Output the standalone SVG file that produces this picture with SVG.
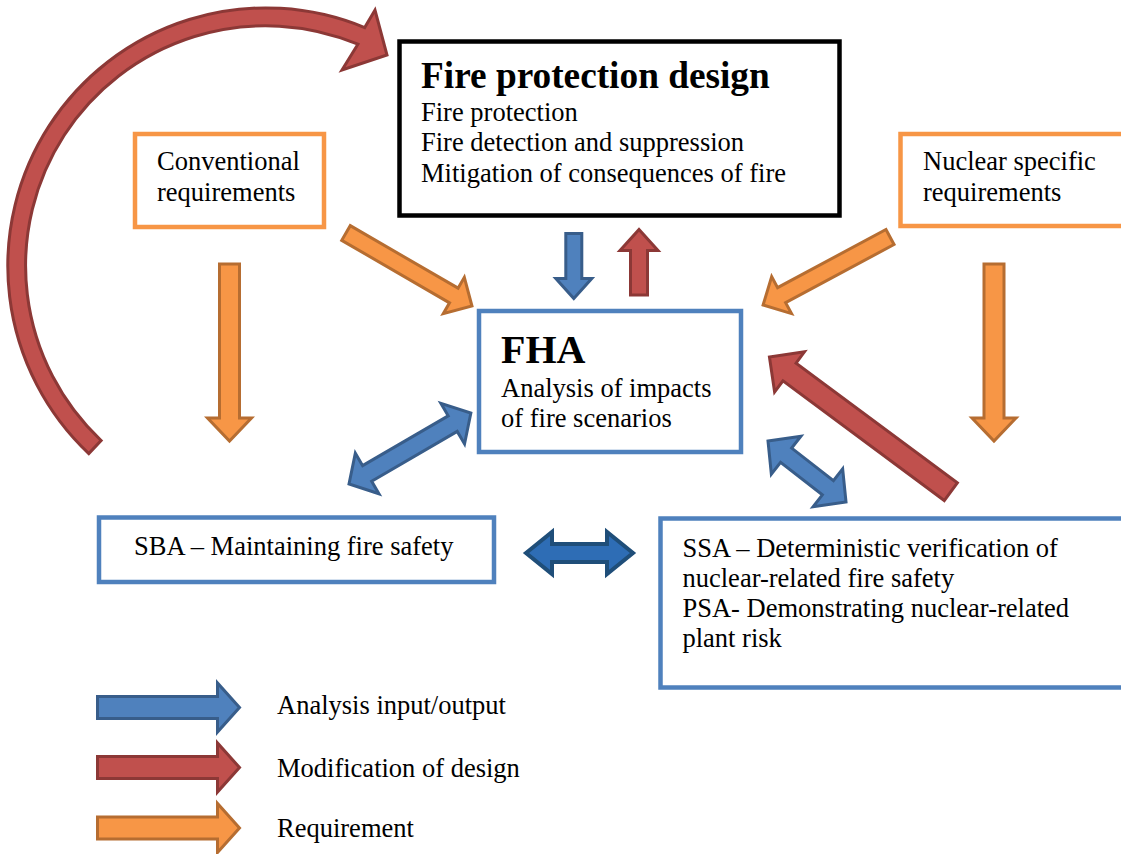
<svg xmlns="http://www.w3.org/2000/svg" width="1121" height="854" viewBox="0 0 1121 854">
<style>
text{font-family:"Liberation Serif","Times New Roman",serif;fill:#000;font-size:26.5px}
.title{font-weight:bold;font-size:37.3px}
.fha{font-weight:bold;font-size:40px}
.box{fill:#fff;stroke-width:4.5}
.bl{stroke:#4F81BD}
.or{stroke:#F79646}
.bk{stroke:#000}
.ab{fill:#4F81BD;stroke:#385D8A;stroke-width:3;stroke-linejoin:miter}
.ar{fill:#C0504D;stroke:#8C3836;stroke-width:3}
.ao{fill:#F79646;stroke:#B66D31;stroke-width:3}
.ad{fill:#2E6DB5;stroke:#1F4E79;stroke-width:4}
</style>
<g id="connectors">
  <path id="loop" class="ar" d="M88.8,453.6 A258,258 0 0 1 364.7,27.6 L375,10 L387,55 L342,70 L357.9,44.2 A240,240 0 0 0 101.1,440.5 Z"/>
  <path class="ao" transform="translate(229.5,264) rotate(90)" d="M0,-10 L154,-10 L154,-22 L177,0 L154,22 L154,10 L0,10 Z"/>
  <path class="ao" transform="translate(994,264) rotate(90)" d="M0,-10 L154,-10 L154,-22 L177,0 L154,22 L154,10 L0,10 Z"/>
  <path class="ao" transform="translate(346,233) rotate(30.1)" d="M0,-8.5 L124.6,-8.5 L124.6,-21 L145.6,0 L124.6,21 L124.6,8.5 L0,8.5 Z"/>
  <path class="ao" transform="translate(890,237) rotate(151.8)" d="M0,-8.5 L123,-8.5 L123,-21 L144,0 L123,21 L123,8.5 L0,8.5 Z"/>
  <path class="ab" transform="translate(573.8,233.5) rotate(90)" d="M0,-8 L45,-8 L45,-18 L65,0 L45,18 L45,8 L0,8 Z"/>
  <path class="ar" transform="translate(639,295) rotate(-90)" d="M0,-8.5 L44.5,-8.5 L44.5,-19 L65.5,0 L44.5,19 L44.5,8.5 L0,8.5 Z"/>
  <path class="ab" transform="translate(349,484) rotate(-30.2)" d="M0,0 L21,-23.5 L21,-9 L120,-9 L120,-23.5 L141,0 L120,23.5 L120,9 L21,9 L21,23.5 Z"/>
  <path class="ab" transform="translate(768,441) rotate(38)" d="M0,0 L23,-24 L23,-9 L76,-9 L76,-24 L99,0 L76,24 L76,9 L23,9 L23,24 Z"/>
  <path class="ar" transform="translate(950.8,491.7) rotate(216.6)" d="M0,-11 L200.9,-11 L200.9,-25 L225.9,0 L200.9,25 L200.9,11 L0,11 Z"/>
  <path class="ad" transform="translate(526,553)" d="M0,0 L26,-21 L26,-9 L81,-9 L81,-21 L107,0 L81,21 L81,9 L26,9 L26,21 Z"/>
</g>
<g id="fire-protection-design">
  <rect class="box bk" x="399.5" y="41.5" width="440" height="174"/>
  <text class="title" x="421" y="88">Fire protection design</text>
  <text x="421" y="121">Fire protection</text>
  <text x="421" y="151">Fire detection and suppression</text>
  <text x="421" y="182">Mitigation of consequences of fire</text>
</g>
<g id="conventional-requirements">
  <rect class="box or" x="135" y="134" width="189" height="93"/>
  <text x="157" y="170">Conventional</text>
  <text x="157" y="201">requirements</text>
</g>
<g id="nuclear-specific-requirements">
  <rect class="box or" x="900.5" y="134" width="240" height="92"/>
  <text x="923" y="170">Nuclear specific</text>
  <text x="923" y="201">requirements</text>
</g>
<g id="fha">
  <rect class="box bl" x="479" y="311" width="262" height="141"/>
  <text class="fha" x="501" y="363">FHA</text>
  <text x="501" y="397">Analysis of impacts</text>
  <text x="501" y="427">of fire scenarios</text>
</g>
<g id="sba">
  <rect class="box bl" x="99" y="517.5" width="395" height="64.5"/>
  <text x="134" y="555">SBA – Maintaining fire safety</text>
</g>
<g id="ssa-psa">
  <rect class="box bl" x="660.5" y="518.5" width="480" height="169"/>
  <text x="682.5" y="556.5">SSA – Deterministic verification of</text>
  <text x="682.5" y="586.5">nuclear-related fire safety</text>
  <text x="682.5" y="616.5">PSA- Demonstrating nuclear-related</text>
  <text x="682.5" y="647">plant risk</text>
</g>
<g id="legend">
  <path class="ab" transform="translate(97.5,707.5)" d="M0,-11 L120,-11 L120,-24.5 L142,0 L120,24.5 L120,11 L0,11 Z"/>
  <path class="ar" transform="translate(97.5,767.5)" d="M0,-11 L120,-11 L120,-24.5 L142,0 L120,24.5 L120,11 L0,11 Z"/>
  <path class="ao" transform="translate(97.5,828)" d="M0,-11 L120,-11 L120,-24.5 L142,0 L120,24.5 L120,11 L0,11 Z"/>
  <text x="277" y="714">Analysis input/output</text>
  <text x="277" y="776.5">Modification of design</text>
  <text x="277" y="837">Requirement</text>
</g>
</svg>
